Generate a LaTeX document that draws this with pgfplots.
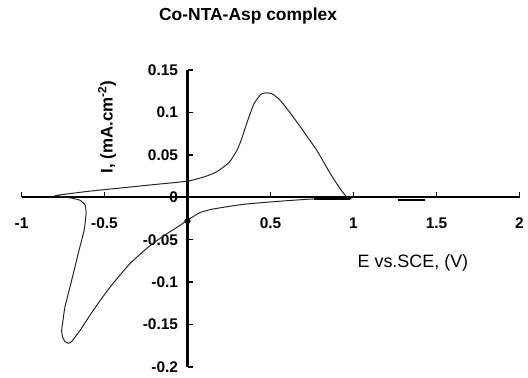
\documentclass[border=0pt]{standalone}
\usepackage{pgfplots}
\pgfplotsset{compat=1.18}
\usepackage{fontspec}
\setmainfont{Liberation Sans}
\begin{document}
\begin{tikzpicture}
\begin{axis}[
 at={(0,0)}, anchor=south west,
 scale only axis, width=498bp, height=297bp,
 xmin=-1, xmax=2, ymin=-0.2, ymax=0.15,
 axis lines=middle,
 axis line style={-, line width=2.2bp, black},
 xtick={-1,-0.5,0.5,1,1.5,2},
 xticklabels={-1,-0.5,0.5,1,1.5,2},
 ytick={-0.2,-0.15,-0.1,-0.05,0,0.05,0.1,0.15},
 yticklabels={-0.2,-0.15,-0.1,-0.05,0,0.05,0.1,0.15},
 hide obscured x ticks=false, hide obscured y ticks=false,
 tick align=inside,
 major tick length=5bp,
 tick style={line width=1.5bp, black},
 ticklabel style={font=\fontsize{15.5}{18}\selectfont\bfseries},
 xticklabel style={yshift=-17bp},
 yticklabel style={xshift=-6bp},
 title={Co-NTA-Asp complex},
 title style={at={(rel axis cs:0.455,1.162)}, anchor=center, font=\fontsize{17.5}{20}\selectfont\bfseries},
 xlabel={E vs.SCE, (V)},
 every axis x label/.style={at={(rel axis cs:0.786,0.35)}, anchor=center, font=\fontsize{18}{20}\selectfont},
 ylabel={I, (mA.cm\textsuperscript{-2})},
 every axis y label/.style={at={(rel axis cs:0.172,0.808)}, rotate=90, anchor=center, font=\fontsize{17}{20}\selectfont\bfseries},
]
\addplot[color=black!85, line width=1bp, smooth, tension=0.3] coordinates {
(-0.80,0.002) (-0.6,0.007) (-0.4,0.011) (-0.2,0.015) (0,0.019) (0.1,0.024) (0.176,0.030) (0.25,0.041) (0.30,0.056) (0.33,0.071) (0.36,0.089) (0.40,0.110) (0.44,0.121) (0.47,0.123) (0.51,0.122) (0.56,0.114) (0.62,0.099) (0.68,0.083) (0.73,0.069) (0.78,0.055) (0.86,0.028) (0.92,0.010) (0.96,0.0) (0.98,-0.002)
(0.76,-0.002) (0.6,-0.004) (0.5,-0.0055) (0.35,-0.008) (0.256,-0.0106) (0.15,-0.014) (0.075,-0.018) (0,-0.027) (-0.06,-0.035) (-0.125,-0.043) (-0.226,-0.057) (-0.346,-0.078) (-0.467,-0.106) (-0.567,-0.133) (-0.648,-0.157) (-0.698,-0.170) (-0.718,-0.172) (-0.738,-0.170) (-0.752,-0.165) (-0.758,-0.157) (-0.75,-0.145) (-0.738,-0.129) (-0.698,-0.098) (-0.658,-0.066) (-0.623,-0.039) (-0.611,-0.019) (-0.617,-0.009) (-0.648,-0.0035) (-0.698,-0.001) (-0.80,0.002)
};
\addplot[black, line width=2bp] coordinates {(1.27,-0.003) (1.43,-0.003)};
\addplot[black, line width=1.6bp] coordinates {(0.76,-0.002) (0.98,-0.002)};
\addplot[only marks, mark=*, mark size=2.8bp, black] coordinates {(0,-0.028)};
\end{axis}
\pgfresetboundingbox
\path (-21.5bp,-11bp) rectangle (506.5bp,367bp);
\end{tikzpicture}
\end{document}
